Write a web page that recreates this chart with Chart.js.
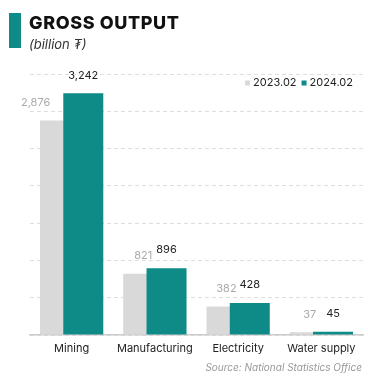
<!DOCTYPE html>
<html>
<head>
<meta charset="utf-8">
<script src="https://cdn.jsdelivr.net/npm/chart.js@4.4.1/dist/chart.umd.min.js"></script>
<style>
  body { margin: 0; background: #fff; font-family: Inter, "Noto Sans", "DejaVu Sans", sans-serif; }
  #wrap { position: relative; width: 368px; height: 381px; overflow: hidden; }
  #bar { position: absolute; left: 9px; top: 13px; width: 12px; height: 35px; background: #0e8b87; }
  #title { position: absolute; left: 29px; top: 12px; font-size: 18px; font-weight: 800; color: #111; letter-spacing: 0.6px; }
  #subtitle { position: absolute; left: 29px; top: 36px; font-size: 13px; font-style: italic; color: #333; }
  #source { position: absolute; right: 6px; top: 361px; font-size: 10px; font-style: italic; color: #999; }
  canvas { position: absolute; left: 0; top: 0; }
</style>
</head>
<body>
<div id="wrap">
  <canvas id="myChart" width="368" height="381"></canvas>
  <div id="bar"></div>
  <div id="title">GROSS OUTPUT</div>
  <div id="subtitle">(billion ₮)</div>
  <div id="source">Source: National Statistics Office</div>
</div>
<script>
const categories = ['Mining', 'Manufacturing', 'Electricity', 'Water supply'];
const values2023 = [2876, 821, 382, 37];
const values2024 = [3242, 896, 428, 45];
const seriesNames = ['2023.02', '2024.02'];

const teal = '#0e8b87';
const grey = '#d9d9d9';
const fontFamily = 'Inter, "Noto Sans", sans-serif';

// bars sit a bit left / right of the category centre and overlap
const shift = 0.14;

function points(vals, off) {
  return vals.map((v, i) => ({ x: i + off, y: v }));
}

// value labels above the bars
const valueLabels = {
  id: 'valueLabels',
  afterDatasetsDraw(chart) {
    const ctx = chart.ctx;
    const metaTeal = chart.getDatasetMeta(0);
    const metaGrey = chart.getDatasetMeta(1);
    ctx.save();
    ctx.font = '11px ' + fontFamily;
    ctx.textBaseline = 'middle';

    metaTeal.data.forEach((bar, i) => {
      ctx.fillStyle = '#222';
      ctx.textAlign = 'center';
      ctx.fillText(values2024[i].toLocaleString('en-US'), bar.x, bar.y - 18);
    });

    metaGrey.data.forEach((bar, i) => {
      const text = values2023[i].toLocaleString('en-US');
      const w = ctx.measureText(text).width;
      const y = bar.y - 18;
      const other = metaTeal.data[i];
      const otherLeft = other.x - other.width / 2;
      ctx.fillStyle = '#aaa';
      if (bar.x + w / 2 > otherLeft && y + 6 > other.y) {
        // would run into the teal bar, push it to the left
        ctx.textAlign = 'right';
        ctx.fillText(text, otherLeft - 13, y);
      } else {
        ctx.textAlign = 'center';
        ctx.fillText(text, bar.x, y);
      }
    });
    ctx.restore();
  }
};

// small legend in the top right corner of the plot
const cornerLegend = {
  id: 'cornerLegend',
  afterDraw(chart) {
    const ctx = chart.ctx;
    const area = chart.chartArea;
    const items = [
      { text: seriesNames[0], color: grey },
      { text: seriesNames[1], color: teal }
    ];
    ctx.save();
    ctx.font = '11px ' + fontFamily;
    ctx.textBaseline = 'middle';
    ctx.textAlign = 'left';
    const y = area.top + 9;
    let x = area.right - 10;
    for (let i = items.length - 1; i >= 0; i--) {
      const w = ctx.measureText(items[i].text).width;
      x -= w;
      ctx.fillStyle = '#222';
      ctx.fillText(items[i].text, x, y);
      x -= 8;
      ctx.fillStyle = items[i].color;
      ctx.fillRect(x, y - 2.5, 5, 5);
      x -= 5;
    }
    ctx.restore();
  }
};

function makeChart() {
  const ctx = document.getElementById('myChart');

  const myChart = new Chart(ctx, {
    type: 'bar',
    data: {
      datasets: [{
        label: seriesNames[1],
        data: points(values2024, shift),
        backgroundColor: teal,
        grouped: false,
        maxBarThickness: 40,
        barPercentage: 10,
        categoryPercentage: 1
      }, {
        label: seriesNames[0],
        data: points(values2023, -shift),
        backgroundColor: grey,
        grouped: false,
        maxBarThickness: 40,
        barPercentage: 10,
        categoryPercentage: 1
      }]
    },
    options: {
      responsive: false,
      animation: false,
      layout: {
        padding: { left: 30, top: 74, right: 5, bottom: 0 }
      },
      plugins: {
        tooltip: { enabled: false },
        legend: { display: false }
      },
      scales: {
        x: {
          type: 'linear',
          min: -0.5,
          max: categories.length - 0.5,
          offset: false,
          afterBuildTicks: scale => {
            scale.ticks = categories.map((c, i) => ({ value: i }));
          },
          afterFit: scale => {
            scale.height = 46;
          },
          grid: { display: false, drawTicks: false },
          border: { display: true, color: '#ccc', width: 1.5 },
          ticks: {
            autoSkip: false,
            maxRotation: 0,
            padding: 7,
            color: '#222',
            font: { size: 11, family: fontFamily },
            callback: v => categories[v]
          }
        },
        y: {
          min: 0,
          max: 3500,
          ticks: { display: false, stepSize: 500 },
          grid: { color: '#dedede', drawTicks: false },
          border: { display: false, dash: [4, 3] }
        }
      }
    },
    plugins: [valueLabels, cornerLegend]
  });
  return myChart;
}

makeChart();
</script>
</body>
</html>
